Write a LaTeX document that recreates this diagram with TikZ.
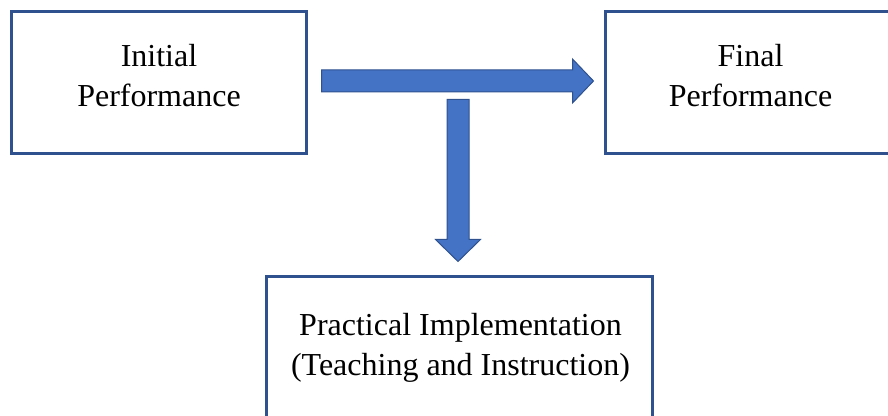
\documentclass[tikz,border=0pt]{standalone}
\usepackage{fontspec}
\setmainfont{Liberation Serif}
\usetikzlibrary{calc}
\definecolor{boxline}{HTML}{2F528F}
\definecolor{arrowfill}{HTML}{4472C4}
\tikzset{
  stagebox/.style={draw=boxline, line width=2.25pt, fill=white, inner sep=0pt},
  stagetext/.style={align=center, inner sep=0pt, font=\fontsize{24}{30}\selectfont},
  blockarrow/.style={draw=boxline, fill=arrowfill, line width=0.75pt, line join=miter}
}
\begin{document}
\begin{tikzpicture}[x=0.75pt,y=0.75pt,yscale=-1,xscale=1]
\useasboundingbox (0,0) rectangle (888,416);
\clip (0,0) rectangle (888,416);

%Shape: Rectangle [init]
\node[stagebox, minimum width=221.25pt, minimum height=106.5pt] (init) at (158.5,83) {};
%Shape: Rectangle [final]
\node[stagebox, minimum width=221.25pt, minimum height=106.5pt] (final) at (752.5,83) {};
%Shape: Rectangle [practice]
\node[stagebox, minimum width=289.5pt, minimum height=106.5pt] (practice) at (459,348) {};

% Text Node
\node[stagetext] (initText) at (159,75.5) {Initial\\Performance};
% Text Node
\node[stagetext] (finalText) at (750.5,75.5) {Final\\Performance};
% Text Node
\node[stagetext] (practiceText) at (460.5,348) {Practical Implementation\\(Teaching and Instruction)};

%Block Arrow: init -> final
\coordinate (hStart) at ($(init.east)+(14,-2)$);
\coordinate (hTip) at ($(final.west)+(-10,-2)$);
\draw[blockarrow] ($(hStart)+(0,-11)$) -- ($(hTip)+(-21,-11)$) -- ($(hTip)+(-21,-22)$) -- (hTip) -- ($(hTip)+(-21,22)$) -- ($(hTip)+(-21,11)$) -- ($(hStart)+(0,11)$) -- cycle;
%Block Arrow: down to practice
\coordinate (vTip) at ($(practice.north)+(-1,-14)$);
\coordinate (vStart) at ($(vTip)+(0,-162)$);
\draw[blockarrow] ($(vStart)+(-11,0)$) -- ($(vTip)+(-11,-22)$) -- ($(vTip)+(-22.5,-22)$) -- (vTip) -- ($(vTip)+(22.5,-22)$) -- ($(vTip)+(11,-22)$) -- ($(vStart)+(11,0)$) -- cycle;

\end{tikzpicture}
\end{document}
